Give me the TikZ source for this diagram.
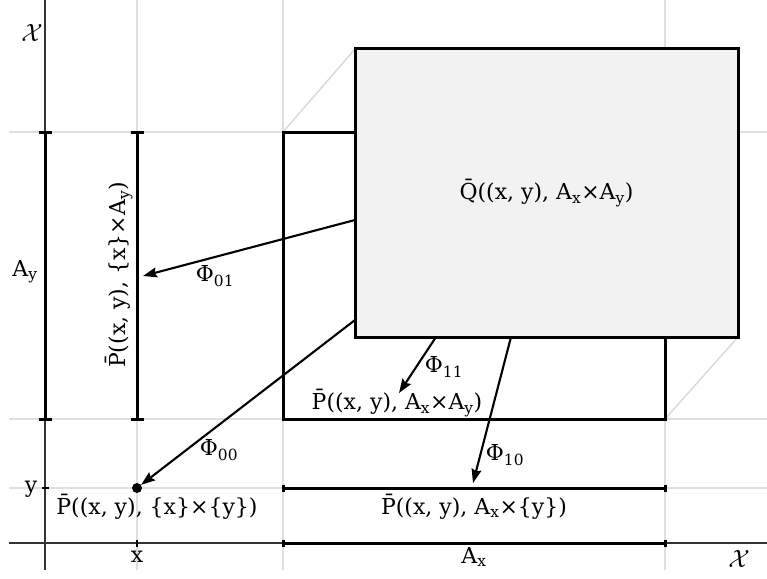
\documentclass[tikz,border=0pt]{standalone}
\usepackage{fontspec}
\setmainfont{DejaVu Serif}
\usetikzlibrary{arrows.meta}
\newcommand{\lo}[1]{\textsubscript{#1}}
\newcommand{\Pbar}{P̄}
\newcommand{\Qbar}{Q̄}
\tikzset{
  gridline/.style={draw=gray!25, line width=1.5pt},
  axisline/.style={draw=black!80, line width=1.4pt},
  bracket/.style={draw=black, line width=3pt},
  tickmark/.style={draw=black, line width=2.4pt},
  boxshape/.style={draw=black, line width=3pt, inner sep=0pt},
  edgethreed/.style={draw=gray!30, line width=1.4pt},
  maparrow/.style={draw=black, line width=2.1pt, -{Stealth[length=14pt,width=10pt,inset=2pt]}},
  lbl/.style={inner sep=0pt, font=\fontsize{22}{26}\selectfont},
  spacelbl/.style={inner sep=0pt, font=\fontsize{28}{32}\selectfont},
}
\begin{document}
\begin{tikzpicture}[x=1pt,y=-1pt]
\useasboundingbox (0,0) rectangle (767,578);
% grid
\draw[gridline] (137,0) -- (137,570);
\draw[gridline] (283,0) -- (283,570);
\draw[gridline] (665,0) -- (665,570);
\draw[gridline] (9,132) -- (767,132);
\draw[gridline] (9,419) -- (767,419);
\draw[gridline] (9,488) -- (767,488);
% axes
\draw[axisline] (45,0) -- (45,570);
\draw[axisline] (9,543) -- (767,543);
\node[spacelbl] (xtop) at (32,33) {$\mathcal{X}$};
\node[spacelbl] (xright) at (739,559) {$\mathcal{X}$};
% small ticks
\draw[tickmark] (42,488) -- (49,488);
\draw[tickmark] (137,540) -- (137,547);
\node[lbl] (ylab) at (31,489) {y};
\node[lbl] (xlab) at (137,557) {x};
% 3d edges
\draw[edgethreed] (283,132) -- (355,49);
\draw[edgethreed] (283,419) -- (355,337);
\draw[edgethreed] (665,419) -- (738,337);
\draw[edgethreed] (665,132) -- (738,49);
% back rectangle
\node[boxshape, fill=white, minimum width=382pt, minimum height=287pt] (B) at (474,275.5) {};
% brackets
\draw[bracket] (45,132) -- (45,419);
\draw[bracket] (38.5,132) -- (51.5,132);
\draw[bracket] (38.5,419) -- (51.5,419);
\draw[bracket] (137,132) -- (137,419);
\draw[bracket] (130.5,132) -- (143.5,132);
\draw[bracket] (130.5,419) -- (143.5,419);
\draw[bracket] (283,488) -- (665,488);
\draw[bracket] (283,484.5) -- (283,491.5);
\draw[bracket] (665,484.5) -- (665,491.5);
\draw[bracket] (283,543) -- (665,543);
\draw[bracket] (283,539.5) -- (283,546.5);
\draw[bracket] (665,539.5) -- (665,546.5);
% point
\node[circle, fill=black, inner sep=0pt, minimum size=10pt] (pt) at (137,488) {};
% front rectangle
\node[boxshape, fill=gray!10, minimum width=383pt, minimum height=288pt, lbl] (Q) at (546.5,193) {\Qbar((x, y), A\lo{x}×A\lo{y})};
% labels
\node[lbl] (Aylab) at (25,272) {A\lo{y}};
\node[lbl, rotate=90] (Pxay) at (119,275) {\Pbar((x, y), \{x\}×A\lo{y})};
\node[lbl] (Paxay) at (397,403) {\Pbar((x, y), A\lo{x}×A\lo{y})};
\node[lbl] (Pxy) at (157,507) {\Pbar((x, y), \{x\}×\{y\})};
\node[lbl] (Paxy) at (474,507) {\Pbar((x, y), A\lo{x}×\{y\})};
\node[lbl] (Axlab) at (474,557) {A\lo{x}};
\node[lbl] (f01) at (215,276) {Φ\lo{01}};
\node[lbl] (f00) at (219,450) {Φ\lo{00}};
\node[lbl] (f11) at (444,367) {Φ\lo{11}};
\node[lbl] (f10) at (505,455) {Φ\lo{10}};
% arrow endpoints
\coordinate (s01) at (355,220);
\coordinate (e01) at (143,276);
\coordinate (s00) at (355,320);
\coordinate (s11) at (436,337);
\coordinate (e11) at (399,393);
\coordinate (s10) at (511,337);
\coordinate (e10) at (473,483);
\draw[maparrow] (s01) -- (e01);
\draw[maparrow] (s00) -- (pt);
\draw[maparrow] (s11) -- (e11);
\draw[maparrow] (s10) -- (e10);
\end{tikzpicture}
\end{document}
